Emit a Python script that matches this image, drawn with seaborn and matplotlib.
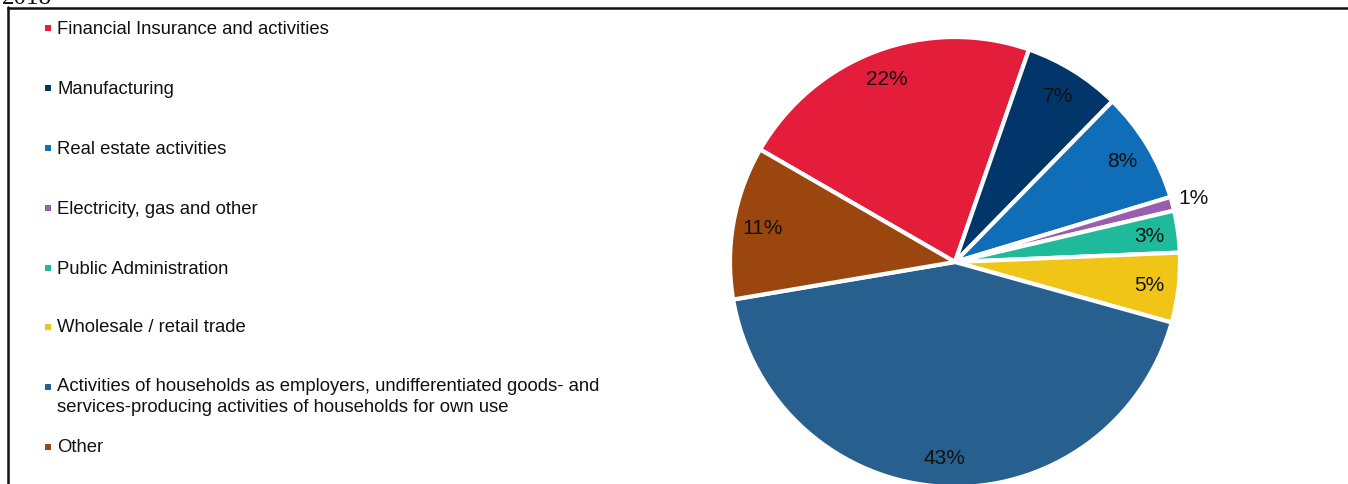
import matplotlib
matplotlib.use("Agg")
import matplotlib.pyplot as plt
import seaborn as sns
import numpy as np
from matplotlib.lines import Line2D
from matplotlib.patches import Rectangle

categories = [
    "Financial Insurance and activities",
    "Manufacturing",
    "Real estate activities",
    "Electricity, gas and other",
    "Public Administration",
    "Wholesale / retail trade",
    "Activities of households as employers, undifferentiated goods- and\nservices-producing activities of households for own use",
    "Other",
]
shares = [22, 7, 8, 1, 3, 5, 43, 11]
colors_hex = ["#E31D3A", "#02366A", "#106DB8", "#9A5CAD", "#1EBA9B", "#F1C518", "#27608F", "#9B460E"]
title_text = "2018"

sns.set_theme(style="white")
plt.rcParams["font.family"] = ["Liberation Sans", "DejaVu Sans"]
palette = sns.color_palette(colors_hex)

W, H = 1348, 485
fig = plt.figure(figsize=(W / 100, H / 100), dpi=100)

# pie axes
cx, cy, R = 955, 263, 225
ax = fig.add_axes([(cx - R) / W, (H - cy - R) / H, 2 * R / W, 2 * R / H])
wedges, texts, autotexts = ax.pie(
    shares, colors=palette, startangle=150, counterclock=False,
    autopct="%.0f%%", pctdistance=0.87,
    wedgeprops=dict(edgecolor="white", linewidth=3),
    textprops=dict(fontsize=15, color="#111111"),
)
for w, t, v in zip(wedges, autotexts, shares):
    if v < 2:
        ang = np.deg2rad((w.theta1 + w.theta2) / 2)
        t.set_position((1.03 * np.cos(ang), 1.03 * np.sin(ang) + 0.02))
        t.set_ha("left")
ax.set_xlim(-1, 1)
ax.set_ylim(-1, 1)
ax.set_aspect("equal")
ax.axis("off")

# legend drawn manually
y_pos = [29, 89, 149, 209, 269, 328, 388, 448]
for lab, col, y in zip(categories, palette, y_pos):
    fig.patches.append(Rectangle((45 / W, 1 - (y + 3) / H), 6 / W, 6 / H,
                                 transform=fig.transFigure, facecolor=col, edgecolor="none"))
    if "\n" in lab:
        fig.text(57 / W, 1 - (y - 10) / H, lab, fontsize=13.3, color="#111111",
                 va="top", ha="left", linespacing=1.3, transform=fig.transFigure)
    else:
        fig.text(57 / W, 1 - y / H, lab, fontsize=13.3, color="#111111",
                 va="center", ha="left", transform=fig.transFigure)

# border lines
fig.lines.append(Line2D([8 / W, 8 / W], [0, 1 - 8 / H], transform=fig.transFigure, color="#111111", lw=1.8))
fig.lines.append(Line2D([8 / W, 1], [1 - 8.5 / H, 1 - 8.5 / H], transform=fig.transFigure, color="#111111", lw=1.8))

fig.text(2 / W, 1 - 4 / H, title_text, family="Liberation Serif", fontsize=18,
         va="baseline", ha="left", color="#111111")

fig.savefig("out.png", dpi=100)
